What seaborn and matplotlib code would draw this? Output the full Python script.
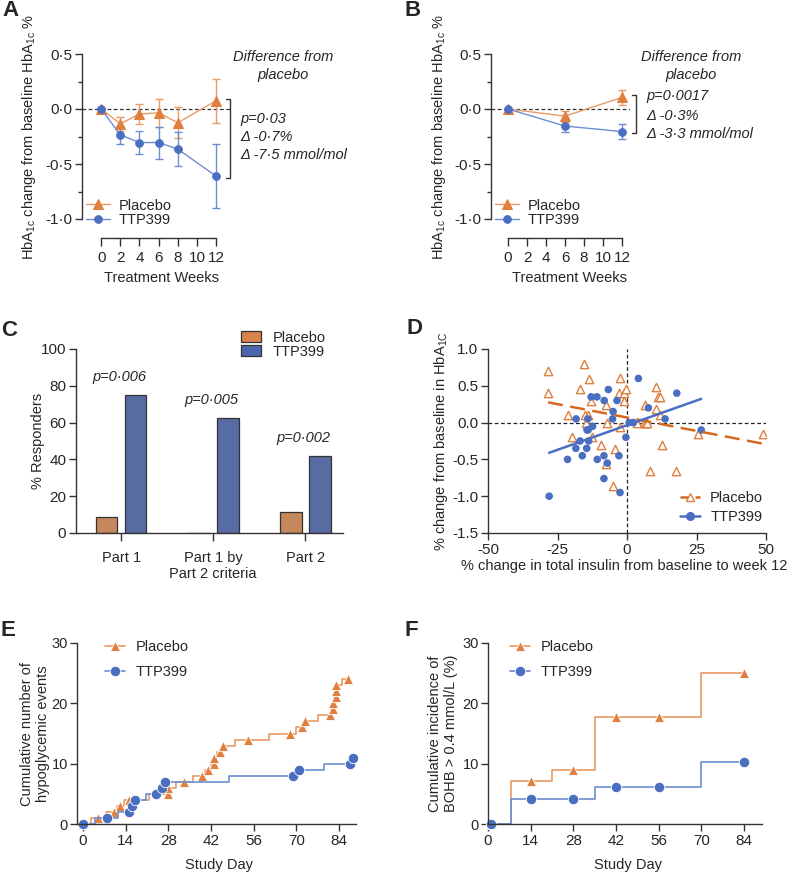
import matplotlib
matplotlib.use("Agg")
import numpy as np
import pandas as pd
import matplotlib.pyplot as plt
import seaborn as sns
import matplotlib.transforms as mtransforms
from matplotlib.lines import Line2D
from matplotlib.patches import Patch
from matplotlib.ticker import AutoMinorLocator, FuncFormatter, MultipleLocator

# ---------------- data ----------------
# A: HbA1c change, part 1
weeks_a = [0, 2, 4, 6, 8, 12]
placebo_a = [0.0, -0.135, -0.045, -0.035, -0.125, 0.075]
placebo_a_err = [0.0, 0.065, 0.09, 0.125, 0.14, 0.20]
ttp_a = [0.0, -0.235, -0.305, -0.305, -0.365, -0.61]
ttp_a_err = [0.0, 0.08, 0.105, 0.145, 0.155, 0.29]
stats_a = ["p=0·03", "Δ -0·7%", "Δ -7·5 mmol/mol"]

# B: HbA1c change, part 2
weeks_b = [0, 6, 12]
placebo_b = [0.0, -0.065, 0.105]
placebo_b_err = [0.0, 0.05, 0.07]
ttp_b = [0.0, -0.155, -0.205]
ttp_b_err = [0.0, 0.05, 0.065]
stats_b = ["p=0·0017", "Δ -0·3%", "Δ -3·3 mmol/mol"]

# C: responders
parts = ["Part 1", "Part 1 by\nPart 2 criteria", "Part 2"]
placebo_c = [8.7, 0.0, 11.4]
ttp_c = [75.0, 62.5, 42.0]
pvals_c = ["p=0·006", "p=0·005", "p=0·002"]

# D: insulin change vs HbA1c change
pl_insulin = [-28.4, -28.4, -15.6, -13.6, -16.9, -13.0, -21.4, -15.0, -14.2, -14.6,
              -19.7, -12.5, -9.5, -4.3, -7.7, -5.2, -7.3, -7.6, -2.4, -3.0,
              -1.1, -0.2, -1.2, -2.5, 6.6, 6.1, 6.9, 7.2, 3.7, 10.6,
              11.2, 11.8, 10.6, 11.7, 12.5, 8.3, 17.5, 25.5, 48.8]
pl_hba1c = [0.70, 0.40, 0.80, 0.59, 0.45, 0.29, 0.10, 0.10, 0.10, -0.01,
            -0.20, -0.20, -0.30, -0.36, -0.56, -0.86, -0.01, 0.24, 0.60, 0.40,
            0.40, 0.45, 0.29, -0.06, 0.24, -0.01, -0.01, -0.01, -0.01, 0.49,
            0.35, 0.35, 0.19, 0.10, -0.30, -0.66, -0.66, -0.15, -0.15]
ttp_insulin = [-28.0, -21.4, -18.3, -18.4, -16.9, -16.1, -13.8, -14.1, -14.4, -14.0,
               -14.5, -12.9, -10.8, -12.4, -10.7, -8.3, -8.3, -8.2, -7.1, -6.7,
               -5.0, -5.2, -3.6, -2.9, -2.5, -0.4, 0.8, 2.3, 4.1, 7.7,
               13.7, 17.9, 26.7]
ttp_hba1c = [-1.00, -0.50, 0.05, -0.35, -0.25, -0.45, -0.25, 0.05, -0.10, -0.10,
             -0.35, 0.35, 0.35, -0.05, -0.50, -0.45, -0.76, 0.30, -0.55, 0.45,
             0.15, 0.05, 0.30, -0.45, -0.95, -0.20, 0.0, 0.0, 0.60, 0.20,
             0.05, 0.40, -0.10]
fit_slope = {"Placebo": -0.00727, "TTP399": 0.0134}
fit_icept = {"Placebo": 0.069, "TTP399": -0.035}

# E: cumulative hypoglycemic events
pl_event_day = [0, 5, 10, 12, 15, 28, 28, 33, 39, 41, 43, 43, 45, 46, 54, 68, 72, 73,
                81, 82, 82, 83, 83, 83, 87]
pl_event_n = list(range(25))
ttp_event_day = [0, 8, 15, 16, 17, 24, 26, 27, 69, 71, 87.5, 88.5]
ttp_event_n = list(range(12))

# F: cumulative incidence of BOHB > 0.4 mmol/L
days_f = [1, 14, 28, 42, 56, 84]
placebo_f = [0.0, 7.1, 8.9, 17.8, 17.8, 25.0]
ttp_f = [0.0, 4.1, 4.1, 6.1, 6.1, 10.2]

# ---------------- style ----------------
sns.set_style("ticks")
plt.rcParams["font.family"] = ["Liberation Sans", "DejaVu Sans"]
plt.rcParams["mathtext.fontset"] = "custom"
plt.rcParams["mathtext.rm"] = "Liberation Sans"
plt.rcParams["mathtext.it"] = "Liberation Sans:italic"
plt.rcParams["axes.unicode_minus"] = False
plt.rcParams["font.size"] = 10.5

DARK = "#333333"
ORANGE = "#E07F3E"
ORANGE_LINE = "#EA9A62"
BLUE = "#4A6EC0"
BLUE_LINE = "#6C8ED2"
ORANGE_D = "#D4691F"
BAR_OR = "#D9834A"
BAR_BL = "#4A67AF"
FS = 10.5
TFS = 11

W, H = 793, 876
fig = plt.figure(figsize=(W / 100, H / 100), dpi=100)


def panel(left, top, right, bottom):
    return fig.add_axes([left / W, 1 - bottom / H, (right - left) / W, (bottom - top) / H])


def style(ax):
    for s in ["top", "right"]:
        ax.spines[s].set_visible(False)
    for s in ["left", "bottom"]:
        ax.spines[s].set_color(DARK)
        ax.spines[s].set_linewidth(1)
    ax.tick_params(which="major", length=5, width=1, color=DARK, labelsize=TFS, pad=2)
    ax.tick_params(which="minor", length=3, width=1, color=DARK)


dot_fmt = FuncFormatter(lambda v, p: f"{v + 0.0:.1f}".replace(".", "·"))
ylab_hba = r"HbA$_{\mathrm{1c}}$ change from baseline HbA$_{\mathrm{1c}}$ %"


def hba1c_panel(ax, weeks, pla, pla_err, ttp, ttp_err, xlim, stats, br_x, st_x, st_y, diff_x,
                leg_x, ylab_x, xlab_x):
    style(ax)
    ax.axhline(0, color=DARK, lw=0.9, ls=(0, (3, 2)), zorder=1)
    w = np.array(weeks)
    ax.errorbar(w[1:], np.array(pla)[1:], yerr=np.array(pla_err)[1:], fmt="none",
                ecolor=ORANGE_LINE, elinewidth=1, capsize=3, capthick=1)
    ax.errorbar(w[1:], np.array(ttp)[1:], yerr=np.array(ttp_err)[1:], fmt="none",
                ecolor=BLUE_LINE, elinewidth=1, capsize=3, capthick=1)
    sns.lineplot(x=weeks, y=pla, ax=ax, color=ORANGE_LINE, lw=1, marker="^", markersize=6.5,
                 markerfacecolor=ORANGE, markeredgecolor=ORANGE, label="Placebo")
    sns.lineplot(x=weeks, y=ttp, ax=ax, color=BLUE_LINE, lw=1, marker="o", markersize=5.5,
                 markerfacecolor=BLUE, markeredgecolor=BLUE, label="TTP399")
    ax.set_xlim(*xlim)
    ax.set_ylim(-1.0, 0.5)
    ax.yaxis.set_major_locator(MultipleLocator(0.5))
    ax.yaxis.set_minor_locator(AutoMinorLocator(2))
    ax.yaxis.set_major_formatter(dot_fmt)
    ax.set_xticks(range(0, 13, 2))
    ax.tick_params(axis="x", length=6, pad=3)
    ax.spines["bottom"].set_position(("outward", 14))
    ax.spines["bottom"].set_bounds(0, 12)
    ax.spines["left"].set_bounds(-1.0, 0.5)
    ax.set_ylabel(ylab_hba, fontsize=FS)
    ax.yaxis.set_label_coords(ylab_x, 0.5)
    ax.set_xlabel("Treatment Weeks", fontsize=FS)
    ax.xaxis.set_label_coords(xlab_x, -0.315)
    # bracket for difference from placebo
    tr = mtransforms.blended_transform_factory(ax.transAxes, ax.transData)
    top, bot = pla[-1] + 0.02, ttp[-1] - 0.015
    tick = 4 / (ax.get_position().width * W)
    ax.plot([br_x - tick, br_x, br_x, br_x - tick], [top, top, bot, bot], color=DARK, lw=1,
            transform=tr, clip_on=False)
    for txt, yy in zip(stats, st_y):
        ax.text(st_x, yy, txt, transform=ax.transAxes, style="italic", fontsize=FS,
                ha="left", va="center")
    ax.text(diff_x, 0.982, "Difference from", transform=ax.transAxes, style="italic",
            fontsize=FS, ha="center", va="center")
    ax.text(diff_x, 0.872, "placebo", transform=ax.transAxes, style="italic",
            fontsize=FS, ha="center", va="center")
    ax.legend(loc="lower left", bbox_to_anchor=(leg_x, -0.05), frameon=False, fontsize=FS,
              handlelength=1.6, handletextpad=0.6, labelspacing=0.05, borderaxespad=0,
              borderpad=0)


# ---- A ----
axA = panel(82, 54, 230, 219)
hba1c_panel(axA, weeks_a, placebo_a, placebo_a_err, ttp_a, ttp_a_err, (-2.0, 13.45), stats_a,
            1.0, 1.068, [0.606, 0.497, 0.385], 1.358, 0.03, -0.30, 0.535)

# ---- B ----
axB = panel(491, 54, 630, 219)
hba1c_panel(axB, weeks_b, placebo_b, placebo_b_err, ttp_b, ttp_b_err, (-1.8, 12.85), stats_b,
            1.043, 1.12, [0.745, 0.627, 0.515], 1.44, 0.03, -0.31, 0.565)

# ---- C ----
axC = panel(76, 349, 343, 533)
style(axC)
df_c = pd.DataFrame({
    "part": parts * 2,
    "group": ["Placebo"] * 3 + ["TTP399"] * 3,
    "pct": placebo_c + ttp_c,
})
sns.barplot(data=df_c, x="part", y="pct", hue="group", ax=axC, width=0.63, gap=0.25,
            palette={"Placebo": BAR_OR, "TTP399": BAR_BL}, edgecolor=DARK, linewidth=0.9,
            legend=False)
axC.set_xlim(-0.49, 2.41)
axC.set_ylim(0, 100)
axC.set_yticks(range(0, 101, 20))
axC.tick_params(axis="x", length=6, pad=7, labelsize=FS)
axC.set_xlabel("")
axC.set_ylabel("% Responders", fontsize=FS)
axC.yaxis.set_label_coords(-0.115, 0.5)
for i, (txt, v) in enumerate(zip(pvals_c, ttp_c)):
    axC.text(i - 0.02, v + 9.8, txt, ha="center", va="center", style="italic", fontsize=FS)
axC.legend(handles=[Patch(facecolor=BAR_OR, edgecolor=DARK, lw=0.9, label="Placebo"),
                    Patch(facecolor=BAR_BL, edgecolor=DARK, lw=0.9, label="TTP399")],
           loc="upper left", bbox_to_anchor=(0.618, 1.1), frameon=False, fontsize=FS,
           handlelength=1.4, handleheight=0.8, handletextpad=0.75, labelspacing=0.0,
           borderaxespad=0, borderpad=0)

# ---- D ----
axD = panel(488, 349, 766, 533)
style(axD)
axD.axhline(0, color="#222222", lw=0.9, ls=(0, (3, 2)), zorder=1)
axD.axvline(0, color="#222222", lw=0.9, ls=(0, (3, 2)), zorder=1)
sns.scatterplot(x=pl_insulin, y=pl_hba1c, ax=axD, marker="^", s=36, facecolor="white",
                edgecolor=ORANGE, linewidth=1, zorder=3)
sns.scatterplot(x=ttp_insulin, y=ttp_hba1c, ax=axD, marker="o", s=30, color=BLUE,
                edgecolor="none", zorder=3)
for name, xs, col, ls in [("Placebo", pl_insulin, ORANGE_D, (0, (6, 3))),
                          ("TTP399", ttp_insulin, BLUE, "-")]:
    xr = np.array([min(xs), max(xs)])
    axD.plot(xr, fit_slope[name] * xr + fit_icept[name], color=col, lw=1.8, ls=ls, zorder=4)
axD.set_xlim(-50, 50)
axD.set_ylim(-1.5, 1.0)
axD.set_xticks([-50, -25, 0, 25, 50])
axD.set_yticks(np.arange(-1.5, 1.01, 0.5))
axD.yaxis.set_major_formatter(FuncFormatter(lambda v, p: f"{v + 0.0:.1f}"))
axD.set_ylabel(r"% change from baseline in HbA$_{\mathrm{1C}}$", fontsize=FS)
axD.yaxis.set_label_coords(-0.137, 0.5)
axD.set_xlabel("% change in total insulin from baseline to week 12", fontsize=FS)
axD.xaxis.set_label_coords(0.49, -0.14)
axD.legend(handles=[Line2D([], [], color=ORANGE_D, lw=1.8, ls=(0, (4, 2)), marker="^",
                           markersize=5.5, markerfacecolor="white", markeredgecolor=ORANGE,
                           label="Placebo"),
                    Line2D([], [], color=BLUE, lw=1.8, marker="o", markersize=5.5,
                           label="TTP399")],
           loc="lower right", bbox_to_anchor=(0.99, 0.05), frameon=False, fontsize=FS,
           handlelength=1.4, handletextpad=0.7, labelspacing=0.3, borderaxespad=0,
           borderpad=0)


# ---- E / F ----
def cumulative_panel(ax, pla_x, pla_y, ttp_x, ttp_y, xlim, ylabel, label_x, leg_x):
    style(ax)
    ax.tick_params(axis="y", labelsize=10.5, pad=1.5)
    sns.lineplot(x=pla_x, y=pla_y, ax=ax, estimator=None, sort=False, color=ORANGE_LINE,
                 lw=1.2, drawstyle="steps-mid", marker="^", markersize=7.5,
                 markerfacecolor=ORANGE, markeredgecolor="white", markeredgewidth=0.6,
                 label="Placebo", clip_on=False)
    sns.lineplot(x=ttp_x, y=ttp_y, ax=ax, estimator=None, sort=False, color=BLUE_LINE,
                 lw=1.2, drawstyle="steps-mid", marker="o", markersize=7.5,
                 markerfacecolor=BLUE, markeredgecolor="white", markeredgewidth=0.6,
                 label="TTP399", clip_on=False)
    ax.set_xlim(*xlim)
    ax.set_ylim(0, 30)
    ax.set_xticks(range(0, 85, 14))
    ax.set_yticks([0, 10, 20, 30])
    ax.set_ylabel(ylabel, fontsize=FS, linespacing=1.2)
    ax.yaxis.set_label_coords(label_x, 0.5)
    ax.set_xlabel("Study Day", fontsize=FS)
    ax.xaxis.set_label_coords(0.51, -0.19)
    ax.legend(loc="upper left", bbox_to_anchor=(leg_x, 1.015), frameon=False, fontsize=FS,
              handlelength=1.35, handletextpad=0.75, labelspacing=0.75, borderaxespad=0,
              borderpad=0)


axE = panel(77, 643, 356, 824)
cumulative_panel(axE, pl_event_day, pl_event_n, ttp_event_day, ttp_event_n, (-2.0, 89.6),
                 "Cumulative number of\nhypoglycemic events", -0.095, 0.1)

axF = panel(488, 643, 762, 824)
cumulative_panel(axF, days_f, placebo_f, days_f, ttp_f, (0, 89.9),
                 "Cumulative incidence of\nBOHB > 0.4 mmol/L (%)", -0.108, 0.08)

# panel letters
for letter, x, y in [("A", 2, 10), ("B", 405, 11), ("C", 1, 330), ("D", 406, 328),
                     ("E", 1, 630), ("F", 405, 630)]:
    fig.text(x / W, 1 - y / H, letter, fontsize=16, fontweight="bold", ha="left", va="center")

fig.savefig("out.png", dpi=100)
